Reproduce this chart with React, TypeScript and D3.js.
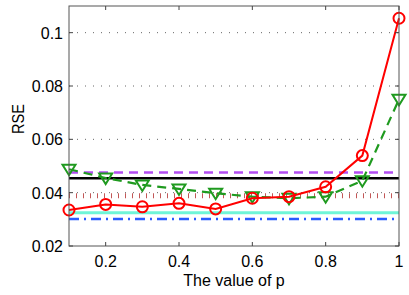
import React, { useEffect, useRef } from 'react';
import * as d3 from 'd3';

const pValues = [0.1, 0.2, 0.3, 0.4, 0.5, 0.6, 0.7, 0.8, 0.9, 1.0];
const redSeries = [0.0335, 0.0356, 0.0347, 0.036, 0.0339, 0.0379, 0.0385, 0.0422, 0.0539, 0.1054];
const greenSeries = [0.0488, 0.0455, 0.0429, 0.0414, 0.0398, 0.0385, 0.0379, 0.0385, 0.0445, 0.075];
const purpleLevel = 0.0476;
const blackLevel = 0.0454;
const darkRedLevel = 0.0388;
const cyanLevel = 0.0325;
const blueLevel = 0.0301;
const xTicks = [0.2, 0.4, 0.6, 0.8, 1];
const yTicks = [0.02, 0.04, 0.06, 0.08, 0.1];

const width = 409;
const height = 295;
const margin = { top: 6, right: 10, bottom: 49, left: 69 };

const App = () => {
    const svgRef = useRef<SVGSVGElement | null>(null);

    useEffect(() => {
        if (!svgRef.current) return;
        const svg = d3.select(svgRef.current);
        svg.selectAll('*').remove();

        const x0 = margin.left, x1 = width - margin.right;
        const y0 = height - margin.bottom, y1 = margin.top;

        const xScale = d3.scaleLinear().domain([0.1, 1]).range([x0, x1]);
        const yScale = d3.scaleLinear().domain([0.02, 0.11]).range([y0, y1]);

        const font = 'Liberation Sans, Arial, sans-serif';

        // grid
        svg.append('g')
            .selectAll('line')
            .data(yTicks.filter(t => t > 0.02))
            .enter()
            .append('line')
            .attr('x1', x0).attr('x2', x1)
            .attr('y1', d => yScale(d)).attr('y2', d => yScale(d))
            .attr('stroke', '#666')
            .attr('stroke-width', 1)
            .attr('stroke-dasharray', '1 7');

        // reference levels
        const hline = (v: number, color: string, w: number, dash: string | null, op = 1) => {
            const l = svg.append('line')
                .attr('x1', x0).attr('x2', x1)
                .attr('y1', yScale(v)).attr('y2', yScale(v))
                .attr('stroke', color)
                .attr('stroke-width', w)
                .attr('opacity', op);
            if (dash) l.attr('stroke-dasharray', dash);
        };
        hline(cyanLevel, '#6ff5d8', 3, null);
        hline(blueLevel, '#2a5cff', 2.5, '10 5 2 5');
        hline(darkRedLevel, '#b83a3a', 5, '1 6', 0.85);
        hline(blackLevel, '#000', 2.4, null);
        hline(purpleLevel, '#b34df2', 2.5, '9 6');

        const line = d3.line<number>()
            .x((d, i) => xScale(pValues[i]))
            .y(d => yScale(d));

        // green dashed with triangles
        svg.append('path')
            .attr('d', line(greenSeries))
            .attr('fill', 'none')
            .attr('stroke', '#1f9a1f')
            .attr('stroke-width', 2.2)
            .attr('stroke-dasharray', '9 6');

        svg.append('g')
            .selectAll('path')
            .data(greenSeries)
            .enter()
            .append('path')
            .attr('transform', (d, i) => `translate(${xScale(pValues[i])},${yScale(d)})`)
            .attr('d', 'M-6.5,-4.5L6.5,-4.5L0,6Z')
            .attr('fill', 'none')
            .attr('stroke', '#1f9a1f')
            .attr('stroke-width', 2);

        // red solid with circles
        svg.append('path')
            .attr('d', line(redSeries))
            .attr('fill', 'none')
            .attr('stroke', '#ff0000')
            .attr('stroke-width', 2);

        svg.append('g')
            .selectAll('circle')
            .data(redSeries)
            .enter()
            .append('circle')
            .attr('cx', (d, i) => xScale(pValues[i]))
            .attr('cy', d => yScale(d))
            .attr('r', 5.5)
            .attr('fill', 'none')
            .attr('stroke', '#ff0000')
            .attr('stroke-width', 2);

        // box
        svg.append('rect')
            .attr('x', x0).attr('y', y1)
            .attr('width', x1 - x0).attr('height', y0 - y1)
            .attr('fill', 'none')
            .attr('stroke', '#555')
            .attr('stroke-width', 1);

        // ticks
        const tk = svg.append('g').attr('stroke', '#444').attr('stroke-width', 1);
        xTicks.forEach(t => {
            tk.append('line').attr('x1', xScale(t)).attr('x2', xScale(t)).attr('y1', y0).attr('y2', y0 - 4);
            tk.append('line').attr('x1', xScale(t)).attr('x2', xScale(t)).attr('y1', y1).attr('y2', y1 + 4);
        });
        yTicks.forEach(t => {
            tk.append('line').attr('x1', x0).attr('x2', x0 + 4).attr('y1', yScale(t)).attr('y2', yScale(t));
            tk.append('line').attr('x1', x1).attr('x2', x1 - 4).attr('y1', yScale(t)).attr('y2', yScale(t));
        });

        // tick labels
        svg.append('g')
            .selectAll('text')
            .data(xTicks)
            .enter()
            .append('text')
            .attr('x', d => xScale(d))
            .attr('y', y0 + 21)
            .attr('text-anchor', 'middle')
            .attr('font-family', font)
            .attr('font-size', 16)
            .text(d => d3.format('')(d));

        svg.append('g')
            .selectAll('text')
            .data(yTicks)
            .enter()
            .append('text')
            .attr('x', x0 - 6)
            .attr('y', d => yScale(d) + 6)
            .attr('text-anchor', 'end')
            .attr('font-family', font)
            .attr('font-size', 16)
            .text(d => d3.format('')(d));

        // axis titles
        svg.append('text')
            .attr('x', (x0 + x1) / 2)
            .attr('y', 286)
            .attr('text-anchor', 'middle')
            .attr('font-family', font)
            .attr('font-size', 16)
            .text('The value of p');

        svg.append('text')
            .attr('transform', `translate(24,119) rotate(-90)`)
            .attr('text-anchor', 'middle')
            .attr('font-family', font)
            .attr('font-size', 16)
            .attr('textLength', 30)
            .attr('lengthAdjust', 'spacingAndGlyphs')
            .text('RSE');
    }, []);

    return (
        <svg ref={svgRef} width={width} height={height}
            style={{ position: 'absolute', left: 0, top: 0, background: '#fff' }}></svg>
    );
};

export default App;
